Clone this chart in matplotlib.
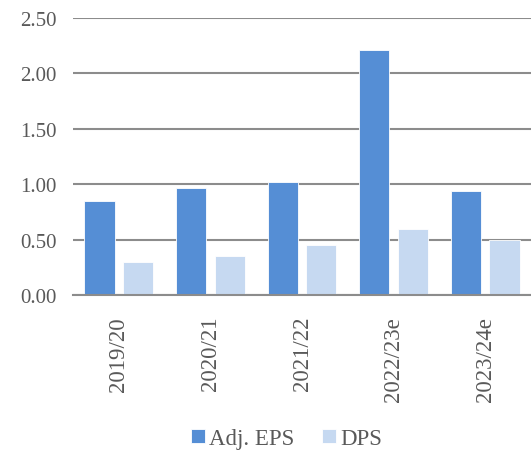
import numpy as np
import matplotlib
matplotlib.use("Agg")
from matplotlib import pyplot as plt

years = ["2019/20", "2020/21", "2021/22", "2022/23e", "2023/24e"]
adj_eps = [0.85, 0.97, 1.02, 2.21, 0.94]
dps = [0.30, 0.35, 0.45, 0.60, 0.50]

plt.rcParams['font.family'] = ['Liberation Serif', 'DejaVu Serif']
text_col = '#595959'

fig = plt.figure(figsize=(5.31, 4.52), dpi=100)
ax = fig.add_axes([0.1375, 0.345, 0.8625, 0.613])

x = np.arange(len(years))
w = 0.33
gap = 0.09
ax.bar(x - (w + gap) / 2, adj_eps, w, color='#558ed5', edgecolor='white',
       linewidth=0.6, label='Adj. EPS', zorder=3)
ax.bar(x + (w + gap) / 2, dps, w, color='#c6d9f1', edgecolor='white',
       linewidth=0.6, label='DPS', zorder=3)

ax.set_xlim(-0.5, len(years) - 0.5)
ax.set_ylim(0, 2.5)
ax.set_yticks(np.arange(0, 2.51, 0.5))
ax.set_yticklabels([f"{v:.2f}" for v in np.arange(0, 2.51, 0.5)])
ax.yaxis.grid(True, color='#8c8c8c', linewidth=1.5, zorder=0)
ax.set_axisbelow(True)

ax.set_xticks(x)
ax.set_xticklabels(years, rotation=90)
ax.tick_params(axis='both', length=0, colors=text_col, labelsize=15)
ax.tick_params(axis='x', pad=15, labelsize=16.5)
ax.tick_params(axis='y', pad=12)

for s in ['top', 'right', 'left']:
    ax.spines[s].set_visible(False)
ax.spines['bottom'].set_color('#8c8c8c')
ax.spines['bottom'].set_linewidth(1.5)
ax.spines['bottom'].set_zorder(4)

leg = fig.legend(loc='center', bbox_to_anchor=(0.54, 0.027), ncol=2, frameon=False,
                 fontsize=16.5, handlelength=0.6, handleheight=0.6,
                 handletextpad=0.2, columnspacing=1.2)
for t in leg.get_texts():
    t.set_color(text_col)

fig.savefig('out.png', dpi=100)
